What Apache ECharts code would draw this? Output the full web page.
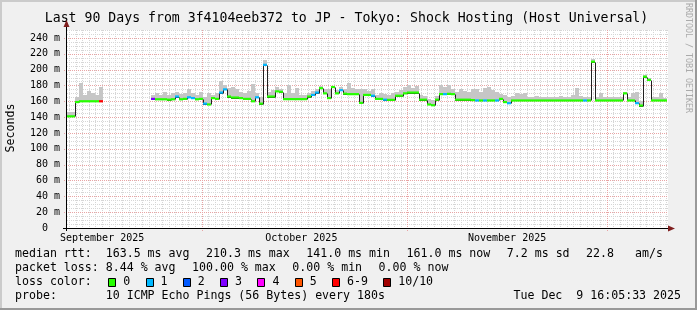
<!DOCTYPE html>
<html><head><meta charset="utf-8">
<script src="https://cdn.jsdelivr.net/npm/echarts@6/dist/echarts.min.js"></script>
<style>html,body{margin:0;padding:0;background:#f0f0f0}#c{width:697px;height:310px}</style>
</head><body><div id="c"></div>
<script>
// ---- time axis (days since 2025-09-01 00:00) ----
const startDay = 9.71;
const endDay = 100.24;
const stepDays = 0.6025;
const yMax = 250;

// ---- median rtt per sample (ms) ----
const median = [
141,141,159,160,160,160,160,160,160,
null,null,null,null,null,null,null,null,null,null,null,null,
163,162.5,162.5,162.5,162,162.5,166,162.5,163,165,
164,162.5,163,157,156,164,163,171,175,166,
164.7,164.7,164,163,163,160,165,157,206,166,
166,172.5,172,162.7,162.7,162.7,162.7,162.7,162.7,166,
168,171,176.5,170,164,178,170,174,169.6,169,
169,169,158,168,168,167,163,163,162,161.8,
161.8,167,167,170,171,171,171,162,162,156,
155,162,169,169,169.4,169,162,162,162,162,
161.5,161,161,161,161,161,161,163,159,157.6,
161,161,161,161,161,161,161,161,161,161,
161,161,161,161,161,161,161,161,161,161,
210,161,161,161,161,161,161,161,170,161,
161,157.6,154.6,191,187,161,161,161,161,null
];
// ---- top of smoke per sample (ms) ----
const smokeHi = [
146,146,166,183,168,173,170,168,178,
null,null,null,null,null,null,null,null,null,null,null,null,
168,170,168,172,168,170,172,169,171,175,
170,168,172,166,170,168,171,185,180,177,
178,175,172,170,173,182,170,166,212,172,
174,178,176,170,181,170,177,168,168,171,
173,175,179,176,175,179,174,178,176,183,
177,175,176,175,173,176,168,170,169,168,
170,172,174,178,180,177,179,168,167,163,
162,167,180,178,181,176,172,175,173,172,
176,175,172,177,178,174,172,169,168,166,
167,170,169,170,166,166,167,166,165,166,
165,166,167,166,165,168,177,167,165,166,
214,166,170,166,165,166,165,166,172,165,
170,172,160,193,190,165,166,170,164,null
];
// ---- lost pings (of 10) per sample ----
const loss = [
0,0,0,0,0,0,0,0,7,
null,null,null,null,null,null,null,null,null,null,null,null,
3,0,0,0,0,0,1,0,0,1,
1,0,0,1,0,0,0,1,1,0,
0,0,0,0,0,0,1,0,1,0,
0,0,0,0,0,0,0,0,0,0,
1,1,0,0,0,0,0,1,0,0,
0,0,0,0,0,1,0,0,1,0,
0,0,0,0,0,0,0,0,0,0,
0,0,0,1,0,0,0,0,0,0,
0,1,0,1,0,0,1,0,0,1,
0,0,0,0,0,0,0,0,0,0,
0,0,0,0,0,0,0,0,1,0,
0,0,0,0,0,0,0,0,0,0,
0,1,0,0,0,0,0,0,0,null
];

const lossColors = ['#26ff00','#00b8ff','#0059ff','#7e00ff','#ff00ff','#ff5500','#ff0000','#a00000'];
const lossLabels = ['0','1','2','3','4','5','6-9','10/10'];
const monthStarts = [30, 61, 91];
const monthLabels = ['September 2025','October 2025','November 2025'];
const monthLabelDays = [15, 45, 76];

const TITLE = 'Last 90 Days from 3f4104eeb372 to JP - Tokyo: Shock Hosting (Host Universal)';
const statRow1 = ['median rtt:  163.5 ms avg','210.3 ms max','141.0 ms min','161.0 ms now','7.2 ms sd','22.8   am/s'];
const statRow2 = ['packet loss: 8.44 % avg','100.00 % max','0.00 % min','0.00 % now'];
const probeText = 'probe:       10 ICMP Echo Pings (56 Bytes) every 180s';
const dateText = 'Tue Dec  9 16:05:33 2025';

// ---- derived ----
const times = median.map((_, i) => startDay + stepDays * (i + 0.5));
function lossIdx(l){ return l >= 10 ? 7 : (l >= 6 ? 6 : l); }

const dayTicks = [];
for (let d = Math.ceil(startDay); d <= Math.floor(endDay); d++) if (monthStarts.indexOf(d) < 0) dayTicks.push(d);
const yMinor = [], yMajor = [];
for (let v = 5; v <= yMax; v += 5) { if (v % 20 === 0) yMajor.push(v); else yMinor.push(v); }

const MONO = '"DejaVu Sans Mono"';
const LEG_FONT = '11.6px ' + MONO;
const GRID_MINOR = '#d6d6d6';
const GRID_MAJOR = '#e8a4a4';

const smokeData = [], bandData = [], medData = [];
times.forEach((t, i) => {
  if (median[i] != null) {
    smokeData.push([t, median[i], smokeHi[i]]);
    bandData.push([t, median[i], lossIdx(loss[i])]);
    medData.push([t, median[i], i > 0 && median[i-1] != null ? median[i-1] : NaN]);
  }
});

function vLineRender(color, ext){
  return function(params, api){
    const d = api.value(0);
    const top = api.coord([d, yMax]), bot = api.coord([d, 0]);
    const x = Math.round(top[0]) + 0.5;
    return {type:'line', silent:true, shape:{x1:x, y1:top[1], x2:x, y2:bot[1] + ext},
      style:{stroke:color, lineWidth:1, lineDash:[1,1]}};
  };
}
function hLineRender(color, ext){
  return function(params, api){
    const v = api.value(1);
    const l = api.coord([startDay, v]), r = api.coord([endDay, v]);
    const y = Math.round(l[1]) + 0.5;
    return {type:'line', silent:true, shape:{x1:l[0] - ext, y1:y, x2:r[0], y2:y},
      style:{stroke:color, lineWidth:1, lineDash:[1,1]}};
  };
}

const ctx = document.createElement('canvas').getContext('2d');
ctx.font = LEG_FONT;
function tw(s){ return ctx.measureText(s).width; }

const graphics = [
  {type:'rect', z:100, shape:{x:0,y:0,width:697,height:2}, style:{fill:'#cbcbcb'}},
  {type:'rect', z:100, shape:{x:0,y:0,width:2,height:310}, style:{fill:'#cbcbcb'}},
  {type:'rect', z:100, shape:{x:0,y:308,width:697,height:2}, style:{fill:'#999999'}},
  {type:'rect', z:100, shape:{x:695,y:0,width:2,height:310}, style:{fill:'#999999'}},
  {type:'text', z:100, x:346.5, y:18.5, style:{text:TITLE, font:'13.2px ' + MONO, fill:'#000',
    textAlign:'center', textVerticalAlign:'middle', align:'center', verticalAlign:'middle'}},
  {type:'text', z:100, x:11, y:128, rotation:Math.PI/2, style:{text:'Seconds', font:LEG_FONT, fill:'#000',
    textAlign:'center', textVerticalAlign:'middle', align:'center', verticalAlign:'middle'}},
  {type:'text', z:100, x:688, y:58, rotation:-Math.PI/2, style:{text:'RRDTOOL / TOBI OETIKER', font:'8.3px ' + MONO, fill:'#aaaaaa',
    textAlign:'center', textVerticalAlign:'middle', align:'center', verticalAlign:'middle'}},
  // axes
  {type:'line', z:100, shape:{x1:66.5, y1:231, x2:66.5, y2:26}, style:{stroke:'#000', lineWidth:1}},
  {type:'polygon', z:101, shape:{points:[[63.5,27],[69.5,27],[66.5,20]]}, style:{fill:'#7f1f1f'}},
  {type:'line', z:100, shape:{x1:63, y1:228.5, x2:669, y2:228.5}, style:{stroke:'#000', lineWidth:1}},
  {type:'polygon', z:101, shape:{points:[[668,225.5],[668,231.5],[675,228.5]]}, style:{fill:'#7f1f1f'}}
];
function legText(s, x, y, align){
  graphics.push({type:'text', z:100, x:x, y:y, style:{text:s, font:LEG_FONT, fill:'#000',
    textAlign:align || 'left', align:align || 'left', textVerticalAlign:'middle', verticalAlign:'middle'}});
}
const GAP = 16.5;
let lx = 15;
statRow1.forEach(s => { legText(s, lx, 254); lx += tw(s) + GAP; });
lx = 15;
statRow2.forEach(s => { legText(s, lx, 268); lx += tw(s) + GAP; });
legText('loss color:', 15, 282);
lx = 15 + tw('loss color:') + GAP;
lossLabels.forEach((s, k) => {
  graphics.push({type:'rect', z:100, shape:{x:Math.round(lx) + 0.5, y:278.5, width:7, height:8},
    style:{fill:lossColors[k], stroke:'#000', lineWidth:1}});
  legText(s, lx + 15, 282);
  lx = lx + 15 + tw(s) + 15.3;
});
legText(probeText, 15, 296);
legText(dateText, 681, 296, 'right');

const chart = echarts.init(document.getElementById('c'));
chart.setOption({
  animation:false,
  backgroundColor:'#f0f0f0',
  grid:{left:67, right:29, top:30, bottom:82, show:true, backgroundColor:'#ffffff', borderWidth:0},
  xAxis:{type:'value', min:startDay, max:endDay, axisLabel:{show:false}, axisTick:{show:false},
    splitLine:{show:false}, axisLine:{show:false}},
  yAxis:{type:'value', min:0, max:yMax, interval:20, splitLine:{show:false}, axisLine:{show:false},
    axisTick:{show:false},
    axisLabel:{fontFamily:'DejaVu Sans Mono', fontSize:10, color:'#000', margin:7, showMaxLabel:false,
      formatter: v => v > 240 ? '' : (v === 0 ? '0  ' : v + ' m')}},
  graphic:{elements:graphics},
  series:[
    {type:'custom', z:1, silent:true, data:dayTicks.map(d => [d, 0]), renderItem:vLineRender(GRID_MINOR, 0)},
    {type:'custom', z:1, silent:true, data:yMinor.map(v => [startDay, v]), renderItem:hLineRender(GRID_MINOR, 0)},
    {type:'custom', z:1, silent:true, data:monthStarts.map(d => [d, 0]), renderItem:vLineRender(GRID_MAJOR, 3)},
    {type:'custom', z:1, silent:true, data:yMajor.map(v => [startDay, v]), renderItem:hLineRender(GRID_MAJOR, 3)},
    // smoke
    {type:'custom', z:2, silent:true, data:smokeData, encode:{x:0, y:[1,2]},
      renderItem:function(params, api){
        const t = api.value(0), m = api.value(1), h = api.value(2);
        const a = api.coord([t - stepDays/2, h]), b = api.coord([t + stepDays/2, m]);
        const x0 = Math.round(a[0]), x1 = Math.round(b[0]);
        const y0 = Math.round(a[1]), y1 = Math.round(b[1]);
        return {type:'rect', shape:{x:x0, y:y0, width:x1 - x0, height:y1 - y0}, style:{fill:'#c6c6c6'}};
      }},
    // dark median line (step), crisp
    {type:'custom', z:3, silent:true, data:medData, encode:{x:0, y:1},
      renderItem:function(params, api){
        const t = api.value(0), m = api.value(1), pm = api.value(2);
        const a = api.coord([t - stepDays/2, m]), b = api.coord([t + stepDays/2, m]);
        const x0 = Math.round(a[0]), x1 = Math.round(b[0]);
        const y = Math.round(a[1]) + 0.5;
        const children = [{type:'line', shape:{x1:x0, y1:y, x2:x1, y2:y}, style:{stroke:'#202020', lineWidth:1}}];
        if (!isNaN(pm)) {
          const py = Math.round(api.coord([t, pm])[1]) + 0.5;
          children.push({type:'line', shape:{x1:x0 + 0.5, y1:py, x2:x0 + 0.5, y2:y}, style:{stroke:'#202020', lineWidth:1}});
        }
        return {type:'group', children:children};
      }},
    // loss-coloured median band
    {type:'custom', z:4, silent:true, data:bandData, encode:{x:0, y:1},
      renderItem:function(params, api){
        const t = api.value(0), m = api.value(1), k = api.value(2);
        const a = api.coord([t - stepDays/2, m + 1.4]), b = api.coord([t + stepDays/2, m - 1.4]);
        const x0 = Math.round(a[0]), x1 = Math.round(b[0]);
        return {type:'rect', shape:{x:x0, y:a[1], width:x1 - x0, height:b[1] - a[1]}, style:{fill:lossColors[k]}};
      }},
    {type:'custom', z:5, silent:true, clip:false, data:monthLabelDays.map((d, k) => [d, 0, k]),
      renderItem:function(params, api){
        const p = api.coord([api.value(0), 0]);
        return {type:'text', x:p[0], y:p[1] + 10, style:{text:monthLabels[api.value(2)], font:'10px ' + MONO, fill:'#000',
          textAlign:'center', align:'center', textVerticalAlign:'middle', verticalAlign:'middle'}};
      }}
  ]
});
</script></body></html>
